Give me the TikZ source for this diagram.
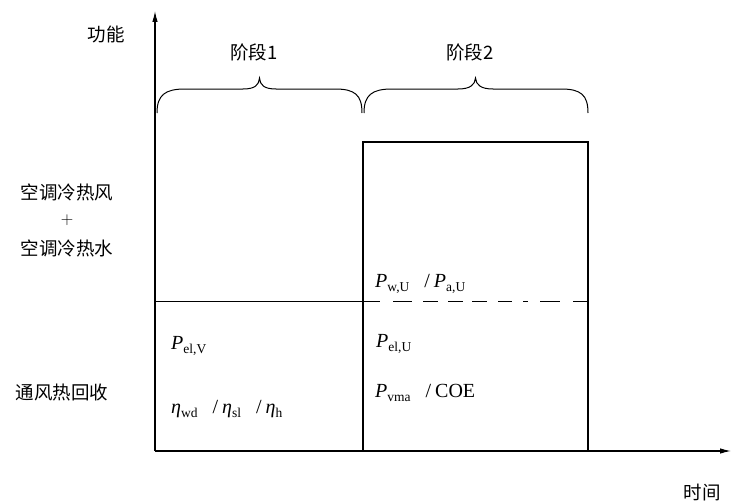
\documentclass[tikz,border=0pt]{standalone}
\usepackage{fontspec}
\setmainfont{Liberation Serif}
\newfontfamily\cjk{Noto Sans CJK SC}
\usetikzlibrary{arrows.meta}
\newcommand\mysub[1]{\raisebox{-0.45ex}{\fontsize{13.5}{13.5}\selectfont\upshape #1}}
\newcommand\myP{\textit{P}}
\newcommand\myeta{\textit{η}}
\newcommand\mysl{\hspace{15pt}/\hspace{4pt}}
\begin{document}
\begin{tikzpicture}[x=1pt,y=-1pt,
  lbl/.style={font=\cjk\fontsize{18.5}{22}\selectfont,inner sep=0pt},
  sym/.style={font=\fontsize{20}{22}\selectfont,inner sep=0pt,anchor=base west},
  axis/.style={line width=1.1pt,-{Latex[length=11pt,width=5.5pt]}},
  thin/.style={line width=0.9pt},
  thick box/.style={line width=2.4pt},
  brace/.style={line width=1pt}]
\useasboundingbox (0,0) rectangle (731,503);
% axes
\coordinate (O) at (155,451);
\coordinate (ytop) at (155,11);
\coordinate (xend) at (731,451);
\draw[axis] (O) -- (ytop);
\draw[axis] (O) -- (xend);
% stage box
\coordinate (b1) at (363,451);
\coordinate (b2) at (363,142);
\coordinate (b3) at (588,142);
\coordinate (b4) at (588,451);
\draw[thick box] (b1) -- (b2) -- (b3) -- (b4);
% horizontal split
\coordinate (h0) at (155,301);
\coordinate (h1) at (363,301);
\coordinate (h2) at (588,301);
\draw[thin] (h0) -- (h1);
\draw[thin,dash pattern=on 17pt off 13pt on 19pt off 11pt on 15pt off 10pt on 15pt off 9pt on 15pt off 11pt on 14pt off 11pt on 5pt off 12pt on 20pt off 13pt on 17pt] (h1) -- (h2);
% braces
\draw[brace] (157,113) .. controls (157,95) and (165,89) .. (185,89) -- (243,89)
  .. controls (255,89) and (259,85) .. (259.5,78)
  .. controls (260,85) and (264,89) .. (276,89) -- (335,89)
  .. controls (355,89) and (362,95) .. (362,113);
\draw[brace] (364,113) .. controls (364,95) and (372,89) .. (392,89) -- (458,89)
  .. controls (470,89) and (475,85) .. (475.5,78)
  .. controls (476,85) and (481,89) .. (493,89) -- (561,89)
  .. controls (581,89) and (588,95) .. (588,113);
% labels
\node[lbl] (yl) at (106,34) {功能};
\node[lbl] (xl) at (702,493) {时间};
\node[lbl] (s1) at (254,52) {阶段1};
\node[lbl] (s2) at (470,52) {阶段2};
\node[lbl] (a1) at (67,192) {空调冷热风};
\node[lbl] (a2) at (67,220) {$+$};
\node[lbl] (a3) at (67,248) {空调冷热水};
\node[lbl] (a4) at (62,392) {通风热回收};
% symbols
\node[sym] (pelv) at (171,349) {\myP\mysub{el,V}};
\node[sym] (eta) at (171,413) {\myeta\mysub{wd}\mysl\myeta\mysub{sl}\mysl\myeta\mysub{h}};
\node[sym] (pwu) at (375,287) {\myP\mysub{w,U}\mysl\myP\mysub{a,U}};
\node[sym] (pelu) at (376,347) {\myP\mysub{el,U}};
\node[sym] (pvma) at (375,397) {\myP\mysub{vma}\mysl COE};
\end{tikzpicture}
\end{document}
